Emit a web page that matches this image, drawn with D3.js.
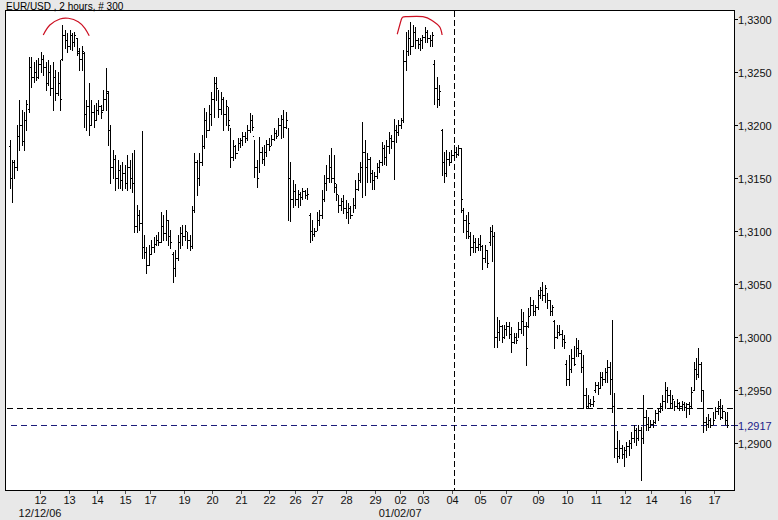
<!DOCTYPE html>
<html><head><meta charset="utf-8">
<script src="https://cdn.jsdelivr.net/npm/d3@7"></script>
<style>body{margin:0;background:#e8e8e8;} svg{display:block;}</style>
</head><body>
<svg id="chart" width="778" height="520"></svg>
<script>
const title = "EUR/USD , 2 hours, # 300";

const opens = [
1.3180,1.3150,1.3165,1.3160,1.3190,1.3200,1.3185,1.3205,1.3215,1.3255,
1.3245,1.3250,1.3245,1.3258,1.3262,1.3255,1.3240,1.3250,1.3235,1.3245,
1.3230,1.3240,1.3262,1.3285,1.3280,1.3275,1.3285,1.3278,1.3282,1.3268,
1.3262,1.3268,1.3210,1.3218,1.3200,1.3212,1.3205,1.3214,1.3218,1.3214,
1.3225,1.3230,1.3195,1.3160,1.3168,1.3150,1.3158,1.3148,1.3155,1.3145,
1.3160,1.3150,1.3145,1.3105,1.3115,1.3108,1.3085,1.3080,1.3068,1.3078,
1.3085,1.3088,1.3092,1.3090,1.3105,1.3098,1.3110,1.3095,1.3078,1.3065,
1.3075,1.3090,1.3098,1.3095,1.3100,1.3092,1.3086,1.3120,1.3165,1.3150,
1.3165,1.3180,1.3205,1.3195,1.3210,1.3225,1.3240,1.3235,1.3215,1.3225,
1.3210,1.3218,1.3200,1.3170,1.3180,1.3174,1.3183,1.3186,1.3190,1.3188,
1.3195,1.3205,1.3190,1.3160,1.3150,1.3175,1.3168,1.3175,1.3182,1.3180,
1.3187,1.3192,1.3190,1.3200,1.3206,1.3198,1.3205,1.3150,1.3130,1.3138,
1.3130,1.3135,1.3132,1.3138,1.3134,1.3115,1.3100,1.3097,1.3100,1.3110,
1.3115,1.3130,1.3145,1.3150,1.3160,1.3150,1.3142,1.3135,1.3125,1.3128,
1.3122,1.3118,1.3122,1.3115,1.3125,1.3140,1.3148,1.3160,1.3175,1.3160,
1.3168,1.3155,1.3148,1.3152,1.3160,1.3165,1.3178,1.3170,1.3180,1.3188,
1.3185,1.3195,1.3193,1.3200,1.3205,1.3260,1.3270,1.3282,1.3275,1.3288,
1.3280,1.3276,1.3280,1.3283,1.3288,1.3282,1.3280,1.3258,1.3235,1.3225,
1.3195,1.3165,1.3155,1.3168,1.3165,1.3172,1.3175,1.3173,1.3178,1.3120,
1.3110,1.3100,1.3095,1.3085,1.3090,1.3085,1.3088,1.3086,1.3075,1.3082,
1.3090,1.3100,1.3095,1.3000,1.3005,1.3010,1.3000,1.3008,1.3010,1.3003,
1.2995,1.3000,1.2997,1.3008,1.3015,1.3010,1.3010,1.3020,1.3030,1.3025,
1.3028,1.3040,1.3044,1.3040,1.3046,1.3035,1.3025,1.3015,1.3000,1.3005,
1.3003,1.2998,1.2975,1.2960,1.2970,1.2980,1.2975,1.2990,1.2985,1.2972,
1.2945,1.2935,1.2938,1.2937,1.2950,1.2955,1.2952,1.2962,1.2960,1.2967,
1.2972,1.2960,1.2935,1.2895,1.2888,1.2895,1.2890,1.2893,1.2897,1.2900,
1.2905,1.2912,1.2905,1.2912,1.2905,1.2925,1.2918,1.2915,1.2918,1.2920,
1.2928,1.2930,1.2935,1.2940,1.2950,1.2945,1.2938,1.2942,1.2935,1.2938,
1.2935,1.2937,1.2934,1.2937,1.2935,1.2950,1.2970,1.2965,1.2975,1.2950,
1.2920,1.2918,1.2922,1.2917,1.2922,1.2930,1.2935,1.2925,1.2930,1.2922];

const highs = [
1.3186,1.3167,1.3167,1.3200,1.3224,1.3214,1.3212,1.3224,1.3264,1.3264,
1.3259,1.3261,1.3263,1.3269,1.3266,1.3259,1.3261,1.3257,1.3259,1.3252,
1.3250,1.3261,1.3294,1.3290,1.3287,1.3290,1.3287,1.3288,1.3282,1.3273,
1.3275,1.3269,1.3224,1.3240,1.3224,1.3219,1.3221,1.3224,1.3219,1.3233,
1.3254,1.3232,1.3200,1.3176,1.3172,1.3167,1.3162,1.3165,1.3162,1.3172,
1.3167,1.3174,1.3176,1.3125,1.3120,1.3194,1.3096,1.3085,1.3087,1.3092,
1.3094,1.3096,1.3099,1.3118,1.3115,1.3120,1.3110,1.3101,1.3080,1.3082,
1.3096,1.3104,1.3106,1.3106,1.3099,1.3096,1.3124,1.3174,1.3167,1.3174,
1.3191,1.3216,1.3212,1.3219,1.3231,1.3245,1.3245,1.3233,1.3231,1.3226,
1.3224,1.3217,1.3197,1.3186,1.3181,1.3188,1.3188,1.3193,1.3193,1.3200,
1.3211,1.3209,1.3186,1.3167,1.3189,1.3179,1.3181,1.3186,1.3188,1.3191,
1.3197,1.3195,1.3207,1.3209,1.3214,1.3212,1.3197,1.3165,1.3148,1.3144,
1.3139,1.3137,1.3141,1.3139,1.3141,1.3117,1.3110,1.3103,1.3118,1.3120,
1.3139,1.3153,1.3162,1.3172,1.3178,1.3172,1.3144,1.3134,1.3131,1.3134,
1.3129,1.3126,1.3124,1.3131,1.3148,1.3155,1.3165,1.3203,1.3186,1.3174,
1.3170,1.3158,1.3156,1.3164,1.3167,1.3184,1.3181,1.3186,1.3193,1.3191,
1.3206,1.3200,1.3205,1.3207,1.3271,1.3288,1.3290,1.3297,1.3294,1.3292,
1.3282,1.3282,1.3285,1.3292,1.3290,1.3285,1.3288,1.3261,1.3245,1.3238,
1.3196,1.3175,1.3176,1.3175,1.3176,1.3181,1.3179,1.3181,1.3178,1.3122,
1.3115,1.3118,1.3099,1.3096,1.3093,1.3093,1.3096,1.3087,1.3087,1.3082,
1.3104,1.3106,1.3099,1.3019,1.3016,1.3011,1.3011,1.3014,1.3014,1.3009,
1.3004,1.3004,1.3014,1.3026,1.3024,1.3014,1.3027,1.3038,1.3035,1.3030,
1.3044,1.3047,1.3052,1.3049,1.3042,1.3035,1.3030,1.3016,1.3011,1.3011,
1.3007,1.3002,1.2978,1.2983,1.2989,1.2992,1.2999,1.2997,1.2988,1.2983,
1.2952,1.2945,1.2942,1.2944,1.2958,1.2958,1.2967,1.2967,1.2971,1.2978,
1.2976,1.3016,1.2947,1.2911,1.2903,1.2898,1.2896,1.2901,1.2903,1.2910,
1.2917,1.2914,1.2917,1.2915,1.2945,1.2931,1.2925,1.2922,1.2922,1.2931,
1.2933,1.2938,1.2945,1.2958,1.2953,1.2950,1.2945,1.2940,1.2942,1.2939,
1.2940,1.2939,1.2938,1.2939,1.2953,1.2976,1.2980,1.2990,1.2976,1.2950,
1.2925,1.2927,1.2924,1.2929,1.2934,1.2940,1.2942,1.2936,1.2929,1.2929];

const lows = [
1.3141,1.3127,1.3150,1.3158,1.3176,1.3181,1.3176,1.3195,1.3212,1.3236,
1.3241,1.3242,1.3244,1.3250,1.3247,1.3233,1.3238,1.3228,1.3214,1.3224,
1.3228,1.3214,1.3261,1.3273,1.3269,1.3272,1.3271,1.3275,1.3266,1.3252,
1.3252,1.3198,1.3195,1.3191,1.3200,1.3198,1.3205,1.3210,1.3207,1.3214,
1.3214,1.3181,1.3145,1.3150,1.3139,1.3141,1.3141,1.3139,1.3141,1.3139,
1.3141,1.3137,1.3099,1.3099,1.3101,1.3075,1.3075,1.3060,1.3068,1.3078,
1.3080,1.3087,1.3087,1.3090,1.3092,1.3092,1.3087,1.3084,1.3052,1.3058,
1.3073,1.3084,1.3087,1.3092,1.3084,1.3082,1.3084,1.3118,1.3134,1.3143,
1.3162,1.3178,1.3189,1.3195,1.3200,1.3208,1.3224,1.3208,1.3210,1.3195,
1.3200,1.3195,1.3160,1.3167,1.3169,1.3176,1.3179,1.3181,1.3184,1.3186,
1.3193,1.3195,1.3151,1.3142,1.3156,1.3164,1.3162,1.3171,1.3176,1.3181,
1.3186,1.3188,1.3191,1.3188,1.3189,1.3197,1.3110,1.3109,1.3123,1.3125,
1.3123,1.3125,1.3130,1.3131,1.3130,1.3090,1.3092,1.3095,1.3101,1.3106,
1.3112,1.3128,1.3139,1.3146,1.3146,1.3137,1.3129,1.3118,1.3120,1.3117,
1.3112,1.3108,1.3112,1.3118,1.3122,1.3139,1.3146,1.3132,1.3134,1.3146,
1.3146,1.3140,1.3140,1.3150,1.3156,1.3162,1.3163,1.3162,1.3174,1.3178,
1.3149,1.3184,1.3191,1.3197,1.3203,1.3252,1.3266,1.3267,1.3275,1.3273,
1.3273,1.3271,1.3273,1.3278,1.3278,1.3275,1.3275,1.3220,1.3217,1.3219,
1.3153,1.3146,1.3152,1.3162,1.3165,1.3168,1.3170,1.3172,1.3118,1.3099,
1.3093,1.3093,1.3077,1.3080,1.3080,1.3082,1.3082,1.3064,1.3071,1.3066,
1.3087,1.3072,1.2991,1.2991,1.2997,1.2995,1.2999,1.3002,1.2999,1.2986,
1.2994,1.2994,1.3000,1.3004,1.3002,1.2974,1.3009,1.3021,1.3021,1.3021,
1.3026,1.3037,1.3035,1.3033,1.3027,1.3021,1.3021,1.2990,1.2999,1.3002,
1.2992,1.2990,1.2955,1.2955,1.2967,1.2974,1.2982,1.2982,1.2967,1.2933,
1.2933,1.2933,1.2935,1.2935,1.2948,1.2946,1.2952,1.2955,1.2958,1.2958,
1.2946,1.2929,1.2887,1.2882,1.2886,1.2886,1.2878,1.2887,1.2889,1.2895,
1.2901,1.2898,1.2903,1.2865,1.2900,1.2912,1.2912,1.2915,1.2915,1.2919,
1.2922,1.2929,1.2931,1.2933,1.2939,1.2933,1.2933,1.2931,1.2933,1.2931,
1.2931,1.2931,1.2925,1.2927,1.2934,1.2950,1.2960,1.2962,1.2940,1.2910,
1.2912,1.2915,1.2915,1.2918,1.2924,1.2927,1.2923,1.2924,1.2918,1.2915];

const closes = [
1.3150,1.3165,1.3160,1.3190,1.3200,1.3185,1.3205,1.3220,1.3255,1.3245,
1.3250,1.3245,1.3258,1.3262,1.3255,1.3240,1.3250,1.3235,1.3245,1.3230,
1.3240,1.3225,1.3285,1.3280,1.3275,1.3285,1.3278,1.3285,1.3270,1.3262,
1.3270,1.3210,1.3218,1.3200,1.3212,1.3205,1.3214,1.3218,1.3212,1.3225,
1.3232,1.3195,1.3160,1.3168,1.3150,1.3158,1.3148,1.3155,1.3145,1.3160,
1.3150,1.3145,1.3105,1.3115,1.3108,1.3085,1.3080,1.3068,1.3078,1.3085,
1.3088,1.3092,1.3090,1.3105,1.3098,1.3110,1.3095,1.3090,1.3065,1.3075,
1.3090,1.3098,1.3095,1.3100,1.3092,1.3086,1.3120,1.3165,1.3150,1.3165,
1.3180,1.3205,1.3195,1.3210,1.3225,1.3240,1.3235,1.3215,1.3225,1.3210,
1.3218,1.3205,1.3170,1.3180,1.3174,1.3183,1.3186,1.3190,1.3188,1.3195,
1.3205,1.3198,1.3160,1.3150,1.3175,1.3168,1.3175,1.3182,1.3180,1.3187,
1.3192,1.3190,1.3200,1.3206,1.3198,1.3205,1.3150,1.3130,1.3138,1.3130,
1.3135,1.3132,1.3138,1.3134,1.3135,1.3100,1.3097,1.3100,1.3110,1.3115,
1.3130,1.3145,1.3150,1.3160,1.3150,1.3145,1.3135,1.3125,1.3128,1.3122,
1.3118,1.3122,1.3115,1.3125,1.3140,1.3148,1.3160,1.3175,1.3160,1.3168,
1.3155,1.3148,1.3152,1.3160,1.3165,1.3178,1.3170,1.3180,1.3188,1.3185,
1.3195,1.3193,1.3200,1.3205,1.3260,1.3270,1.3282,1.3275,1.3288,1.3280,
1.3276,1.3280,1.3283,1.3288,1.3282,1.3280,1.3285,1.3235,1.3225,1.3232,
1.3165,1.3155,1.3168,1.3165,1.3172,1.3175,1.3173,1.3178,1.3130,1.3110,
1.3100,1.3108,1.3085,1.3090,1.3085,1.3088,1.3086,1.3075,1.3082,1.3070,
1.3100,1.3095,1.3000,1.3005,1.3010,1.3000,1.3008,1.3010,1.3003,1.2995,
1.3000,1.2997,1.3008,1.3015,1.3010,1.2990,1.3020,1.3030,1.3025,1.3028,
1.3040,1.3044,1.3040,1.3046,1.3035,1.3025,1.3028,1.3000,1.3005,1.3003,
1.2998,1.2995,1.2960,1.2970,1.2980,1.2975,1.2990,1.2985,1.2972,1.2945,
1.2935,1.2938,1.2937,1.2940,1.2955,1.2952,1.2962,1.2960,1.2967,1.2972,
1.2960,1.2935,1.2895,1.2888,1.2895,1.2890,1.2893,1.2897,1.2900,1.2905,
1.2912,1.2905,1.2912,1.2905,1.2925,1.2918,1.2915,1.2918,1.2920,1.2928,
1.2930,1.2935,1.2940,1.2950,1.2945,1.2938,1.2942,1.2935,1.2938,1.2935,
1.2937,1.2934,1.2937,1.2935,1.2948,1.2970,1.2965,1.2975,1.2950,1.2920,
1.2918,1.2922,1.2917,1.2922,1.2930,1.2935,1.2925,1.2930,1.2922,1.2917];

// day labels and their position (in bar index units)
const dayLabels    = ["12","13","14","15","17","19","20","21","22","26","27","28","29","02","03","04","05","07","09","10","11","12","14","16","17"];
const dayPositions = [12.5,24.4,36.3,48.1,58.5,72.5,84.3,96.1,107.9,118.8,127.8,140.1,152.0,162.5,172.1,184.0,195.8,206.6,220.0,232.2,244.0,256.2,266.9,281.0,293.3];
const dateLabels    = ["12/12/06","01/02/07"];
const datePositions = [12.5,162.5];

const priceTicks = [1.3300,1.3250,1.3200,1.3150,1.3100,1.3050,1.3000,1.2950,1.2900];
const fmtPrice = p => p.toFixed(4).replace(".", ",");
const lastPrice = 1.2917;
const refPrice = 1.2933;
const markerBar = 184.8;

// red annotation arcs (bar index, price)
const arc1 = [[13.85,1.32849],[16.6,1.32943],[20.8,1.33000],[24.3,1.33007],[28.4,1.32975],[31.2,1.32912],[33.0,1.32842]];
const arc2 = [[161.3,1.32856],[163.0,1.32995],[165.1,1.33022],[172.0,1.33022],[175.9,1.32984],[178.9,1.32928],[180.0,1.32849]];

const svg = d3.select("#chart");
const W = 778, H = 520;
const plot = {left:5, top:10, right:734, bottom:490};

const x = d3.scaleLinear().domain([0, 299]).range([10, 727.8]);
const y = d3.scaleLinear().domain([1.28557, 1.33085]).range([plot.bottom, plot.top]);

svg.append("rect").attr("width", W).attr("height", H).attr("fill", "#e8e8e8");
svg.append("rect")
  .attr("x", plot.left + 0.5).attr("y", plot.top + 0.5)
  .attr("width", plot.right - plot.left).attr("height", plot.bottom - plot.top)
  .attr("fill", "#ffffff").attr("stroke", "#000").attr("stroke-width", 1);

const font = "'Liberation Sans', Arial, sans-serif";

// title
svg.append("text").attr("x", 6).attr("y", 9.5)
  .attr("font-family", font).attr("font-size", 10).attr("fill", "#000")
  .text(title);

// dashed reference lines
const g = svg.append("g").attr("shape-rendering", "crispEdges");
g.append("line")
  .attr("x1", plot.left + 2).attr("x2", plot.right)
  .attr("y1", Math.round(y(refPrice)) + 0.5).attr("y2", Math.round(y(refPrice)) + 0.5)
  .attr("stroke", "#000").attr("stroke-dasharray", "6,4");
g.append("line")
  .attr("x1", plot.left + 6).attr("x2", plot.right)
  .attr("y1", Math.round(y(lastPrice)) + 0.5).attr("y2", Math.round(y(lastPrice)) + 0.5)
  .attr("stroke", "#1c1c7a").attr("stroke-dasharray", "6,4");
g.append("line")
  .attr("x1", Math.round(x(markerBar)) + 0.5).attr("x2", Math.round(x(markerBar)) + 0.5)
  .attr("y1", plot.top + 1).attr("y2", plot.bottom)
  .attr("stroke", "#000").attr("stroke-dasharray", "6,3");

// OHLC bars
const bars = d3.range(opens.length).map(i => ({i, o:opens[i], h:highs[i], l:lows[i], c:closes[i]}));
const bg = svg.append("g").attr("fill", "#000").attr("shape-rendering", "crispEdges");
bars.forEach(d => {
  const px = Math.floor(x(d.i));
  const yh = Math.round(y(d.h)), yl = Math.round(y(d.l));
  bg.append("rect").attr("x", px).attr("y", yh).attr("width", 1).attr("height", Math.max(1, yl - yh + 1));
  bg.append("rect").attr("x", px - 1).attr("y", Math.round(y(d.o))).attr("width", 1).attr("height", 1);
  bg.append("rect").attr("x", px + 1).attr("y", Math.round(y(d.c))).attr("width", 1).attr("height", 1);
});

// red arcs
const arcLine = d3.line().x(d => x(d[0])).y(d => y(d[1])).curve(d3.curveNatural);
[arc1, arc2].forEach(a => {
  svg.append("path").attr("d", arcLine(a)).attr("fill", "none")
    .attr("stroke", "#cc1022").attr("stroke-width", 1.2);
});

// right price axis
const ya = svg.append("g");
priceTicks.forEach(p => {
  const yy = Math.round(y(p)) + 0.5;
  ya.append("line").attr("x1", plot.right + 0.5).attr("x2", plot.right + 4).attr("y1", yy).attr("y2", yy)
    .attr("stroke", "#000").attr("shape-rendering", "crispEdges");
  ya.append("text").attr("x", plot.right + 4).attr("y", yy + 4)
    .attr("font-family", font).attr("font-size", 11).attr("fill", "#111").text(fmtPrice(p));
});
{
  const yy = Math.round(y(lastPrice)) + 0.5;
  ya.append("line").attr("x1", plot.right + 0.5).attr("x2", plot.right + 4).attr("y1", yy).attr("y2", yy)
    .attr("stroke", "#1c1c7a").attr("shape-rendering", "crispEdges");
  ya.append("text").attr("x", plot.right + 4).attr("y", yy + 4)
    .attr("font-family", font).attr("font-size", 11).attr("fill", "#1c1c8a").text(fmtPrice(lastPrice));
}

// bottom time axis
const xa = svg.append("g");
dayLabels.forEach((lab, k) => {
  const xx = Math.round(x(dayPositions[k])) + 0.5;
  xa.append("line").attr("x1", xx).attr("x2", xx).attr("y1", plot.bottom + 0.5).attr("y2", plot.bottom + 3.5)
    .attr("stroke", "#555").attr("shape-rendering", "crispEdges");
  xa.append("text").attr("x", xx).attr("y", 503.5).attr("text-anchor", "middle")
    .attr("font-family", font).attr("font-size", 11).attr("fill", "#111").text(lab);
});
dateLabels.forEach((lab, k) => {
  xa.append("text").attr("x", x(datePositions[k])).attr("y", 517).attr("text-anchor", "middle")
    .attr("font-family", font).attr("font-size", 11).attr("fill", "#111").text(lab);
});
</script>
</body></html>
